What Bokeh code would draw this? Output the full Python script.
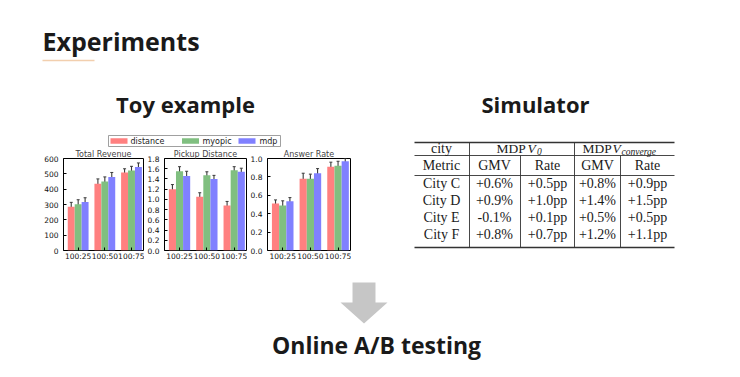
from bokeh.plotting import figure
from bokeh.layouts import row, column
from bokeh.models import (Range1d, ColumnDataSource, Spacer, SingleIntervalTicker,
                          FixedTicker, NumeralTickFormatter, Whisker, TeeHead, Title)
from bokeh.core.properties import value
from bokeh.embed import file_html
from bokeh.resources import INLINE

# ---------------- data ----------------
groups = ["100:25", "100:50", "100:75"]
series = ["distance", "myopic", "mdp"]
series_colors = ["#ff8080", "#80bf80", "#8080ff"]

revenue = [[286, 435, 508], [301, 450, 521], [316, 479, 545]]
revenue_err = [[28, 32, 25], [30, 30, 28], [28, 30, 26]]
pickup = [[1.20, 1.05, 0.88], [1.55, 1.47, 1.57], [1.46, 1.40, 1.54]]
pickup_err = [[0.09, 0.08, 0.08], [0.09, 0.07, 0.07], [0.09, 0.07, 0.07]]
answer = [[0.51, 0.78, 0.91], [0.49, 0.78, 0.92], [0.535, 0.84, 0.97]]
answer_err = [[0.04, 0.06, 0.05], [0.05, 0.05, 0.05], [0.04, 0.05, 0.03]]

table_cities = ["City C", "City D", "City E", "City F"]
gmv_v0 = ["+0.6%", "+0.9%", "-0.1%", "+0.8%"]
rate_v0 = ["+0.5pp", "+1.0pp", "+0.1pp", "+0.7pp"]
gmv_vc = ["+0.8%", "+1.4%", "+0.5%", "+1.2%"]
rate_vc = ["+0.9pp", "+1.5pp", "+0.5pp", "+1.1pp"]

SANS = value("Open Sans")
TICKFONT = "DejaVu Sans"
SERIF = value("Liberation Serif")


def blank(width, height, x0, x1, y0, y1):
    p = figure(width=width, height=height, x_range=Range1d(x0, x1), y_range=Range1d(y1, y0),
               output_backend="svg", toolbar_location=None,
               x_axis_location=None, y_axis_location=None,
               min_border=0, min_border_left=0, min_border_right=0,
               min_border_top=0, min_border_bottom=0)
    p.grid.visible = False
    p.outline_line_color = None
    p.background_fill_color = "white"
    p.border_fill_color = "white"
    return p


# ---------------- top ----------------
top = blank(740, 132, 0, 740, 0, 132)
top.text(x=[42], y=[40], text=["Experiments"], text_font=SANS, text_font_style="bold",
         text_font_size="25px", text_baseline="middle", text_color="#1a1a1a")
top.segment(x0=[42], y0=[60], x1=[94], y1=[60], line_color="#f2cfae", line_width=1.5)
top.text(x=[185, 535], y=[103, 103], text=["Toy example", "Simulator"], text_font=SANS,
         text_font_style="bold", text_font_size="22px", text_align="center",
         text_baseline="middle", text_color="#1a1a1a")

# ---------------- legend ----------------
leg = blank(314, 15, 30, 344, 132, 147)
leg.rect(x=[194], y=[140.5], width=[172], height=[11], fill_color="white",
         line_color="#888888", line_width=0.8)
sw_x = [118.5, 190, 246.5]
lab_x = [130, 202, 259]
leg.rect(x=sw_x, y=[140.5] * 3, width=[17] * 3, height=[5.5] * 3,
         fill_color=series_colors, line_color=None)
leg.text(x=lab_x, y=[140.5] * 3, text=series, text_font=value(TICKFONT),
         text_font_size="8px", text_baseline="middle", text_color="#222222")


# ---------------- bar charts ----------------
def bar_chart(title, data, err, ymax, step, fmt, left, frame_w):
    p = figure(frame_width=frame_w, frame_height=92, x_range=Range1d(-0.55, 2.45),
               y_range=Range1d(0, ymax), output_backend="svg", toolbar_location=None,
               min_border_left=left, min_border_right=1, min_border_top=0, min_border_bottom=0)
    p.add_layout(Title(text=title, align="center", text_font_size="8px",
                       text_font=TICKFONT, text_font_style="normal",
                       standoff=0, offset=0), "above")
    p.grid.visible = False
    p.outline_line_color = "black"
    p.outline_line_width = 1
    p.background_fill_color = "white"
    p.border_fill_color = "white"
    bw = 0.26
    for j, name in enumerate(series):
        xs = [i + (j - 1) * bw for i in range(len(groups))]
        src = ColumnDataSource(dict(x=xs, top=data[j],
                                    upper=[v + e for v, e in zip(data[j], err[j])],
                                    lower=[v - e for v, e in zip(data[j], err[j])]))
        p.vbar(x="x", top="top", width=bw, source=src, fill_color=series_colors[j],
               line_color=None)
        w = Whisker(base="x", upper="upper", lower="lower", source=src,
                    line_color="#3a3a3a", line_width=1.1,
                    upper_head=TeeHead(size=3, line_color="#3a3a3a"),
                    lower_head=TeeHead(size=3, line_color="#3a3a3a"))
        p.add_layout(w)
    p.xaxis.ticker = FixedTicker(ticks=list(range(len(groups))))
    p.xaxis.major_label_overrides = {i: g for i, g in enumerate(groups)}
    p.yaxis.ticker = SingleIntervalTicker(interval=step)
    p.yaxis.formatter = NumeralTickFormatter(format=fmt)
    for ax in (p.xaxis, p.yaxis):
        ax.axis_line_color = None
        ax.major_tick_in = 3
        ax.major_tick_out = 0
        ax.minor_tick_line_color = None
        ax.major_tick_line_color = "black"
        ax.major_label_text_font = TICKFONT
        ax.major_label_text_font_size = "7.5px"
        ax.major_label_text_color = "#111111"
        ax.major_label_standoff = 1
    return p


c1 = bar_chart("Total Revenue", revenue, revenue_err, 600, 100, "0", 33, 80)
c2 = bar_chart("Pickup Distance", pickup, pickup_err, 1.8, 0.2, "0.0", 12, 82)
c3 = bar_chart("Answer Rate", answer, answer_err, 1.0, 0.2, "0.0", 18, 83)

# ---------------- table ----------------
tb = blank(290, 133, 400, 690, 132, 265)
L, R = 407, 667
tb.segment(x0=[L, L], y0=[142, 247], x1=[R, R], y1=[142, 247], line_color="#333333", line_width=1.6)
tb.segment(x0=[L, L], y0=[155, 175], x1=[R, R], y1=[155, 175], line_color="#333333", line_width=0.9)
tb.segment(x0=[462, 567], y0=[142, 142], x1=[462, 567], y1=[247, 247], line_color="#333333", line_width=0.9)
tb.segment(x0=[513, 613], y0=[155, 155], x1=[513, 613], y1=[247, 247], line_color="#333333", line_width=0.9)

txt_kw = dict(text_font=SERIF, text_font_size="14px", text_align="center",
              text_baseline="middle", text_color="#1a1a1a")
tb.text(x=[434], y=[147.5], text=["city"], **txt_kw)
tb.text(x=[434, 487, 540, 590, 640], y=[165] * 5,
        text=["Metric", "GMV", "Rate", "GMV", "Rate"], **txt_kw)
row_y = [182.5, 199.5, 216.5, 234]
for cx, col in zip([434, 487, 540, 590, 640], [table_cities, gmv_v0, rate_v0, gmv_vc, rate_vc]):
    tb.text(x=[cx] * len(col), y=row_y, text=col, **txt_kw)
# header with subscripts
hdr = dict(text_font=SERIF, text_baseline="middle", text_color="#1a1a1a")
tb.text(x=[489, 575], y=[147.5, 147.5], text=["MDP", "MDP"], text_font_size="13.5px", **hdr)
tb.text(x=[520, 605], y=[147.5, 147.5], text=["V", "V"], text_font_size="13.5px",
        text_font_style="italic", **hdr)
tb.text(x=[529.5, 614], y=[151, 151], text=["0", "converge"], text_font_size="9.5px",
        text_font_style="italic", **hdr)

# ---------------- bottom ----------------
bot = blank(740, 112, 0, 740, 265, 377)
bot.patch(x=[352, 375, 375, 387, 363.5, 340, 352], y=[282, 282, 302, 302, 323, 302, 302],
          fill_color="#c6c6c6", line_color=None)
bot.text(x=[376], y=[344], text=["Online A/B testing"], text_font=SANS, text_font_style="bold",
         text_font_size="23px", text_align="center", text_baseline="middle", text_color="#1a1a1a")

middle = row(Spacer(width=30, height=133),
             column(leg, row(c1, c2, c3)),
             Spacer(width=56, height=133), tb, Spacer(width=50, height=133))
layout = column(top, middle, bot)

open("out.html", "w").write(file_html(layout, INLINE))
